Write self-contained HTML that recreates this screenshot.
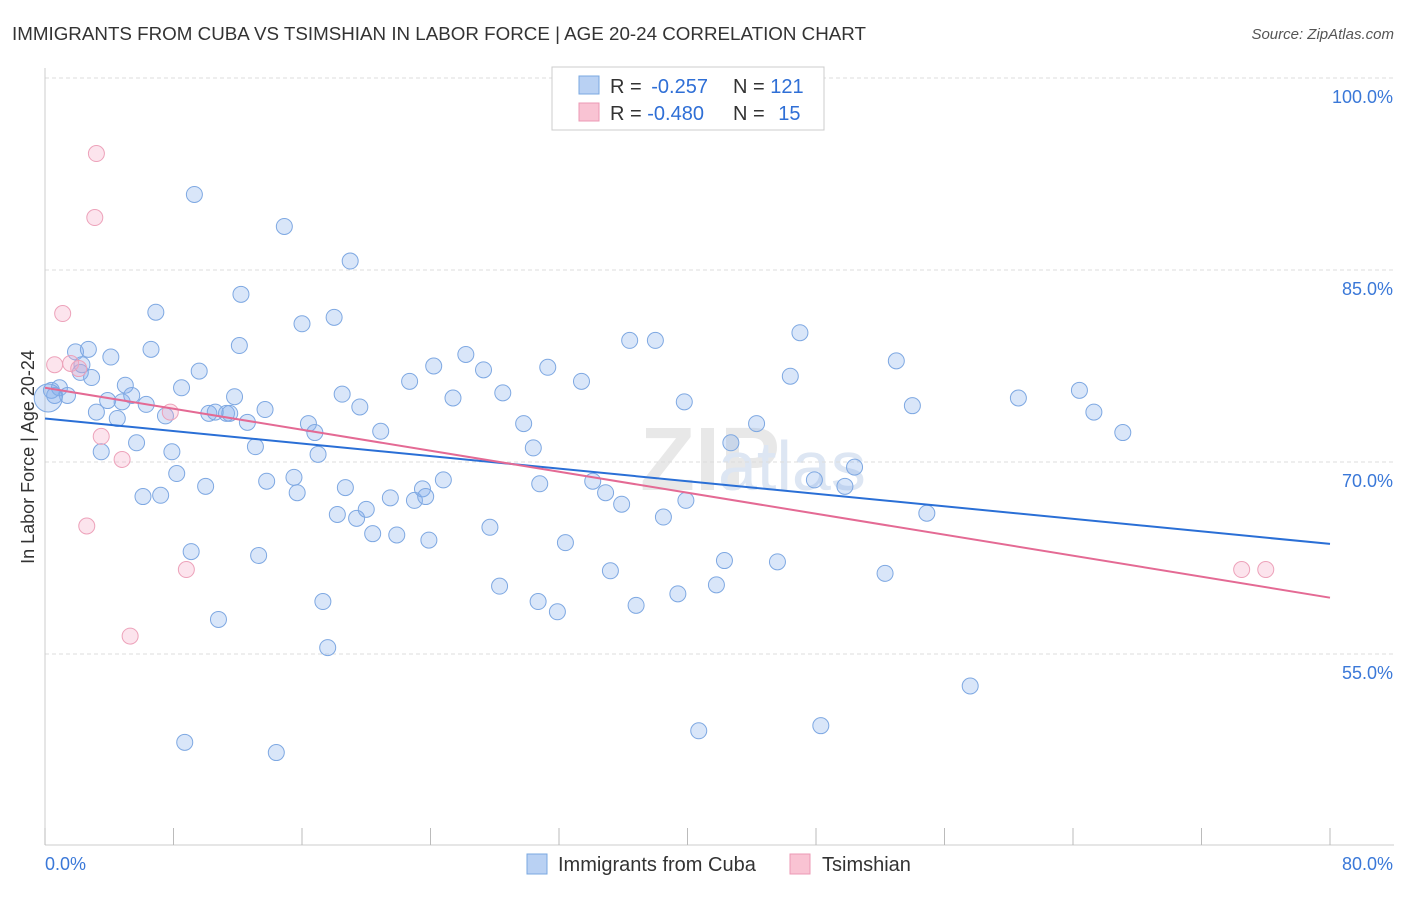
<!DOCTYPE html>
<html><head><meta charset="utf-8"><style>
body{margin:0;background:#fff;font-family:"Liberation Sans",sans-serif}
svg text{font-family:"Liberation Sans",sans-serif}
</style></head><body>
<svg id="c" width="1406" height="892">
<text x="12" y="40" font-size="18" fill="#333" textLength="854" lengthAdjust="spacingAndGlyphs">IMMIGRANTS FROM CUBA VS TSIMSHIAN IN LABOR FORCE | AGE 20-24 CORRELATION CHART</text>
<text x="1394" y="39" font-size="15" fill="#555" font-style="italic" text-anchor="end">Source: ZipAtlas.com</text>
<text x="640" y="490" font-size="90" fill="#e8e8e8" font-weight="bold" font-family="Liberation Serif">ZIP</text>
<text x="718" y="490" font-size="70" fill="#dde6f3">atlas</text>
<text transform="translate(34,457) rotate(-90)" font-size="18" fill="#333" text-anchor="middle">In Labor Force | Age 20-24</text>
<g id="grid"></g><g id="ticks"></g><g id="pts"></g><g id="trend"></g>
<g>
<rect x="552" y="67" width="272" height="63" fill="#fff" stroke="#ccc"/>
<rect x="579" y="76" width="20" height="18" fill="#b9d1f3" stroke="#7aa8e0"/>
<rect x="579" y="103" width="20" height="18" fill="#f9c3d3" stroke="#ec9ab4"/>
<text x="610" y="93" font-size="20" fill="#333">R = <tspan dx="4" fill="#2f6fd6">-0.257</tspan></text>
<text x="733" y="93" font-size="20" fill="#333">N = <tspan fill="#2f6fd6">121</tspan></text>
<text x="610" y="120" font-size="20" fill="#333">R = <tspan fill="#2f6fd6">-0.480</tspan></text>
<text x="733" y="120" font-size="20" fill="#333">N = <tspan dx="8" fill="#2f6fd6">15</tspan></text>
</g>
<g>
<rect x="527" y="854" width="20" height="20" fill="#b9d1f3" stroke="#7aa8e0"/>
<text x="558" y="871" font-size="20" fill="#333">Immigrants from Cuba</text>
<rect x="790" y="854" width="20" height="20" fill="#f9c3d3" stroke="#ec9ab4"/>
<text x="822" y="871" font-size="20" fill="#333">Tsimshian</text>
</g>
</svg>
<script>
const cubaX=[0.4,0.6,0.9,1.4,1.9,2.2,2.7,2.9,2.3,3.2,3.5,3.9,4.1,4.5,4.8,5.0,5.4,5.7,6.1,6.3,6.6,6.9,7.2,7.5,7.9,8.2,8.5,8.7,9.1,9.3,9.6,10.0,10.2,10.8,10.6,11.3,11.5,11.8,12.1,12.2,12.6,13.1,13.3,13.7,13.8,14.4,14.9,15.5,15.7,16.0,16.4,16.8,17.0,17.3,17.6,18.0,18.2,18.5,18.7,19.0,19.4,19.6,20.0,20.4,20.9,21.5,21.9,22.7,23.0,23.5,23.7,23.9,24.2,24.8,25.4,26.2,27.3,27.7,28.3,28.5,29.8,30.4,30.7,30.8,31.3,31.9,32.4,33.4,34.1,34.9,35.2,35.9,36.4,36.8,38.0,38.5,39.4,39.8,39.9,40.7,41.8,42.3,42.7,44.3,45.6,46.4,47.0,47.9,48.3,49.8,50.4,52.3,53.0,54.0,54.9,57.6,60.6,64.4,65.3,67.1];
const cubaY=[75.6,75.2,75.8,75.2,78.6,77.0,78.8,76.6,77.6,73.9,70.8,74.8,78.2,73.4,74.7,76.0,75.2,71.5,67.3,74.5,78.8,81.7,67.4,73.6,70.8,69.1,75.8,48.1,63.0,90.9,77.1,68.1,73.8,57.7,73.9,73.8,73.8,75.1,79.1,83.1,73.1,71.2,62.7,74.1,68.5,47.3,88.4,68.8,67.6,80.8,73.0,72.3,70.6,59.1,55.5,81.3,65.9,75.3,68.0,85.7,65.6,74.3,66.3,64.4,72.4,67.2,64.3,76.3,67.0,67.9,67.3,63.9,77.5,68.6,75.0,78.4,77.2,64.9,60.3,75.4,73.0,71.1,59.1,68.3,77.4,58.3,63.7,76.3,68.5,67.6,61.5,66.7,79.5,58.8,79.5,65.7,59.7,74.7,67.0,49.0,60.4,62.3,71.5,73.0,62.2,76.7,80.1,68.6,49.4,68.1,69.6,61.3,77.9,74.4,66.0,52.5,75.0,75.6,73.9,72.3];
const tsimX=[0.6,1.1,1.6,2.1,2.6,3.1,3.2,3.5,4.8,5.3,7.8,8.8,74.5,76.0];
const tsimY=[77.6,81.6,77.7,77.3,65.0,89.1,94.1,72.0,70.2,56.4,73.9,61.6,61.6,61.6];
const trendXs=[0,80];
const cubaTrend=[73.4,63.6];
const tsimTrend=[75.8,59.4];
const yTicks=[100,85,70,55];
const xTicks=[0,8,16,24,32,40,48,56,64,72,80];
const NS='http://www.w3.org/2000/svg';
const sx=v=>45+v/80*1285, sy=v=>78+(100-v)*12.8;
function mk(tag,a,p){const e=document.createElementNS(NS,tag);for(const k in a)e.setAttribute(k,a[k]);document.getElementById(p).appendChild(e);return e;}
yTicks.forEach(t=>{
 const l=mk('line',{x1:45,x2:1394,y1:sy(t),y2:sy(t),stroke:'#ddd','stroke-dasharray':'4,3'},'grid');
 
 
 const tx=mk('text',{x:1393,y:sy(t)+25,'font-size':18,fill:'#3a78d8','text-anchor':'end'},'grid');
 tx.textContent=t.toFixed(1)+'%';
 
 
});
const ax=mk('line',{x1:45,x2:45,y1:68,y2:845,stroke:'#ccc'},'ticks');


const bx=mk('line',{x1:45,x2:1394,y1:845,y2:845,stroke:'#ccc'},'ticks');


xTicks.forEach(t=>{
 const l=mk('line',{x1:sx(t),x2:sx(t),y1:828,y2:845,stroke:'#bbb'},'ticks');
 
 
});
[[0,'0.0%','start',45],[80,'80.0%','end',1393]].forEach(d=>{
 const tx=mk('text',{x:d[3],y:870,'font-size':18,fill:'#3a78d8','text-anchor':d[2]},'ticks');
 tx.textContent=d[1];
 
 
});
cubaX.forEach((x,i)=>{
 const c=mk('circle',{cx:sx(x),cy:sy(cubaY[i]),r:8,fill:'rgba(130,172,235,0.3)',stroke:'#7ea8e2','stroke-width':1},'pts');
 
 
});
tsimX.forEach((x,i)=>{
 const c=mk('circle',{cx:sx(x),cy:sy(tsimY[i]),r:8,fill:'rgba(245,165,195,0.3)',stroke:'#eda2ba','stroke-width':1},'pts');
 
 
});
const big=mk('circle',{cx:sx(0.2),cy:sy(75.0),r:14,fill:'rgba(130,172,235,0.3)',stroke:'#7ea8e2'},'pts');


const t1=mk('line',{x1:sx(trendXs[0]),x2:sx(trendXs[1]),y1:sy(cubaTrend[0]),y2:sy(cubaTrend[1]),stroke:'#2a6fd6','stroke-width':2},'trend');


const t2=mk('line',{x1:sx(trendXs[0]),x2:sx(trendXs[1]),y1:sy(tsimTrend[0]),y2:sy(tsimTrend[1]),stroke:'#e46a94','stroke-width':2},'trend');


</script>
</body></html>
